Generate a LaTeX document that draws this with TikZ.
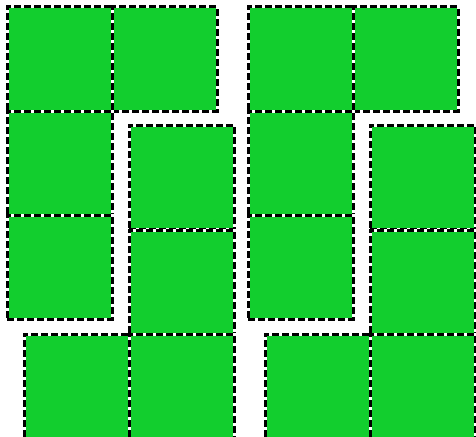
\documentclass[tikz,border=0pt]{standalone}
\definecolor{tilegreen}{RGB}{18,206,46}
\tikzset{
  tile/.style={draw=white, line width=3pt, fill=tilegreen, minimum width=105pt, minimum height=104pt, anchor=north west, inner sep=0pt, outer sep=0pt,
    postaction={draw=black, line width=3pt, dash pattern=on 7pt off 3pt}}
}
\begin{document}
\begin{tikzpicture}[x=1pt,y=-1pt]
\useasboundingbox (0,0) rectangle (476,436);
\clip (0,0) rectangle (476,436);
\foreach \ox/\g in {0/l,241/r}{
  \begin{scope}[xshift=\ox pt]
  \node[tile] (\g a) at (7,7) {};
  \node[tile] (\g b) at (112,7) {};
  \node[tile] (\g c) at (7,111) {};
  \node[tile] (\g d) at (7,215) {};
  \node[tile] (\g e) at (129,125) {};
  \node[tile] (\g f) at (129,230) {};
  \node[tile] (\g h) at (24,334) {};
  \node[tile] (\g g) at (129,334) {};
  \end{scope}
}
\end{tikzpicture}
\end{document}
